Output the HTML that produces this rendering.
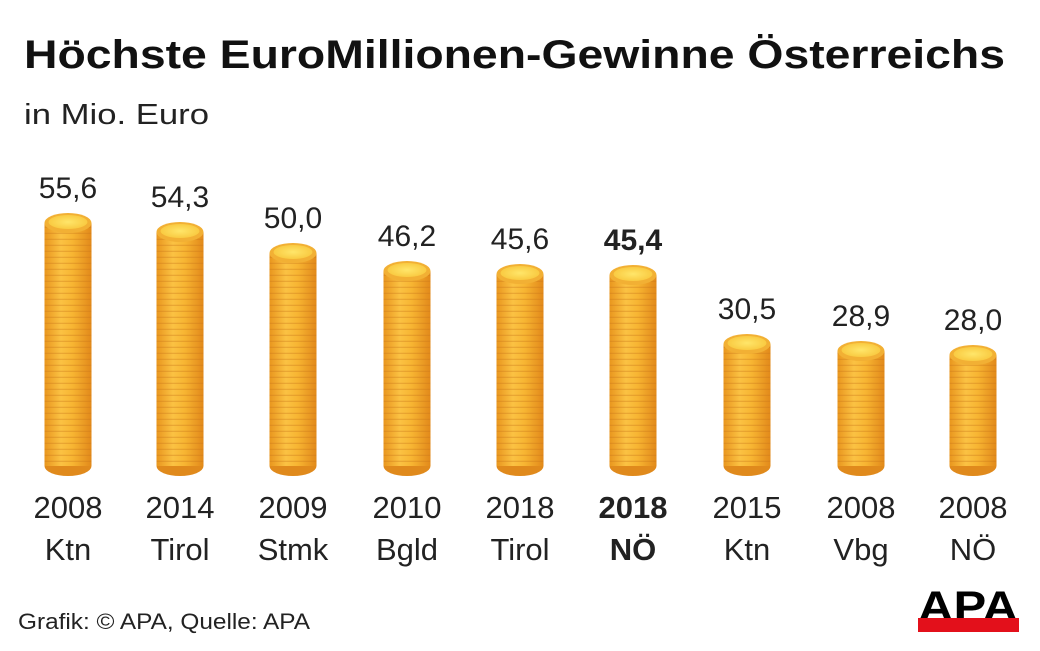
<!DOCTYPE html>
<html><head><meta charset="utf-8"><style>
body{margin:0;background:#fff;}
svg{display:block;font-family:"Liberation Sans",sans-serif;}
</style></head><body>
<svg width="1040" height="651" viewBox="0 0 1040 651">
<defs>
<linearGradient id="g" x1="0" x2="1">
<stop offset="0" stop-color="#e9961e"/><stop offset="0.35" stop-color="#fbc243"/><stop offset="0.6" stop-color="#f7b532"/><stop offset="1" stop-color="#e2891a"/>
</linearGradient>
<pattern id="st" width="10" height="6" patternUnits="userSpaceOnUse">
<rect width="10" height="1.3" y="4.7" fill="#c9741a" opacity="0.35"/>
</pattern>
<radialGradient id="t" cx="0.5" cy="0.5" r="0.6"><stop offset="0" stop-color="#ffe66a"/><stop offset="1" stop-color="#f8c53a"/></radialGradient>
<g id="c"><ellipse cx="0" cy="0" rx="23.5" ry="10" fill="#f2b034"/><ellipse cx="0" cy="-1" rx="19.5" ry="7" fill="url(#t)"/></g>
</defs>
<text x="24" y="68" font-size="40" font-weight="bold" fill="#111" textLength="981" lengthAdjust="spacingAndGlyphs">Höchste EuroMillionen-Gewinne Österreichs</text>
<text x="24" y="124" font-size="29" fill="#222" textLength="185" lengthAdjust="spacingAndGlyphs">in Mio. Euro</text>

<g fill="#e08a1c">
<ellipse cx="68" cy="466" rx="23.5" ry="10"/><ellipse cx="180" cy="466" rx="23.5" ry="10"/><ellipse cx="293" cy="466" rx="23.5" ry="10"/><ellipse cx="407" cy="466" rx="23.5" ry="10"/><ellipse cx="520" cy="466" rx="23.5" ry="10"/><ellipse cx="633" cy="466" rx="23.5" ry="10"/><ellipse cx="747" cy="466" rx="23.5" ry="10"/><ellipse cx="861" cy="466" rx="23.5" ry="10"/><ellipse cx="973" cy="466" rx="23.5" ry="10"/>
</g>
<g fill="url(#g)">
<rect x="44.5" y="223" width="47" height="243"/><rect x="156.5" y="232" width="47" height="234"/><rect x="269.5" y="253" width="47" height="213"/><rect x="383.5" y="271" width="47" height="195"/><rect x="496.5" y="274" width="47" height="192"/><rect x="609.5" y="275" width="47" height="191"/><rect x="723.5" y="344" width="47" height="122"/><rect x="837.5" y="351" width="47" height="115"/><rect x="949.5" y="355" width="47" height="111"/>
</g>
<g fill="url(#st)">
<rect x="44.5" y="223" width="47" height="243"/><rect x="156.5" y="232" width="47" height="234"/><rect x="269.5" y="253" width="47" height="213"/><rect x="383.5" y="271" width="47" height="195"/><rect x="496.5" y="274" width="47" height="192"/><rect x="609.5" y="275" width="47" height="191"/><rect x="723.5" y="344" width="47" height="122"/><rect x="837.5" y="351" width="47" height="115"/><rect x="949.5" y="355" width="47" height="111"/>
</g>
<use href="#c" x="68" y="223"/><use href="#c" x="180" y="232"/><use href="#c" x="293" y="253"/><use href="#c" x="407" y="271"/><use href="#c" x="520" y="274"/><use href="#c" x="633" y="275"/><use href="#c" x="747" y="344"/><use href="#c" x="861" y="351"/><use href="#c" x="973" y="355"/>

<g font-size="30" text-anchor="middle" fill="#222">
<text x="68" y="198">55,6</text><text x="180" y="207">54,3</text><text x="293" y="228">50,0</text><text x="407" y="246">46,2</text><text x="520" y="249">45,6</text><text x="633" y="250" font-weight="bold">45,4</text><text x="747" y="319">30,5</text><text x="861" y="326">28,9</text><text x="973" y="330">28,0</text>
</g>
<g font-size="31" text-anchor="middle" fill="#222">
<text x="68" y="518">2008</text><text x="180" y="518">2014</text><text x="293" y="518">2009</text><text x="407" y="518">2010</text><text x="520" y="518">2018</text><text x="633" y="518" font-weight="bold">2018</text><text x="747" y="518">2015</text><text x="861" y="518">2008</text><text x="973" y="518">2008</text>
<text x="68" y="560">Ktn</text><text x="180" y="560">Tirol</text><text x="293" y="560">Stmk</text><text x="407" y="560">Bgld</text><text x="520" y="560">Tirol</text><text x="633" y="560" font-weight="bold">NÖ</text><text x="747" y="560">Ktn</text><text x="861" y="560">Vbg</text><text x="973" y="560">NÖ</text>
</g>
<text x="18" y="629" font-size="22" fill="#222" textLength="292" lengthAdjust="spacingAndGlyphs">Grafik: © APA, Quelle: APA</text>
<text x="968" y="621" font-size="43" font-weight="bold" fill="#000" text-anchor="middle" textLength="100" lengthAdjust="spacingAndGlyphs">APA</text>
<rect x="918" y="618" width="101" height="14" fill="#e3101b"/>
</svg>
</body></html>
